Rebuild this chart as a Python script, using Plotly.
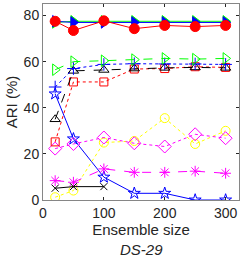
import plotly.graph_objects as go

x = [20, 50, 100, 150, 200, 250, 300]

green_tri = [77.0, 77.5, 77.5, 77.5, 77.5, 77.5, 77.5]
blue_tri = [77.5, 77.0, 77.0, 77.0, 77.0, 77.0, 77.0]
red_circ = [77.5, 73.5, 77.7, 74.3, 75.7, 75.2, 75.7]
green_open_tri = [56.5, 60.0, 60.4, 60.9, 61.4, 61.1, 61.4]
blue_plus = [49.0, 57.0, 58.8, 59.1, 59.0, 59.0, 58.8]
black_tri = [35.0, 56.0, 56.4, 57.0, 57.3, 57.5, 57.3]
red_sq = [25.2, 51.2, 51.2, 56.8, 57.0, 57.8, 57.5]
blue_star = [46.0, 26.5, 9.9, 2.9, 2.9, 0.0, 0.0]
yellow_circ = [1.2, 4.1, 24.9, 25.6, 35.5, 24.3, 30.0]
mag_diam = [22.3, 24.3, 27.1, 24.6, 23.2, 28.5, 26.8]
mag_ast = [8.4, 7.7, 13.5, 12.0, 12.0, 12.5, 11.6]
x_black = [20, 50, 100]
black_x = [5.1, 5.8, 5.8]

series = [
    (x, blue_star, "#0000FF", "solid", "star-open", 9),
    (x, yellow_circ, "#FFFF00", "dot", "circle-open", 9),
    (x, mag_diam, "#FF00FF", "dot", "diamond-open", 10),
    (x, mag_ast, "#FF00FF", "dash", "asterisk-open", 9),
    (x_black, black_x, "#000000", "solid", "x-thin-open", 7),
    (x, red_sq, "#FF0000", "dot", "square-open", 8),
    (x, black_tri, "#000000", "dash", "triangle-up-open", 9),
    (x, blue_plus, "#0000FF", "dot", "cross-thin-open", 9),
    (x, green_open_tri, "#00FF00", "dash", "triangle-right-open", 10),
    (x, green_tri, "#00FF00", "solid", "triangle-right", 10),
    (x, blue_tri, "#0000FF", "solid", "triangle-right", 10),
    (x, red_circ, "#FF0000", "solid", "circle", 10),
]

fig = go.Figure()
for xs, ys, c, dash, sym, sz in series:
    fig.add_trace(go.Scatter(
        x=xs, y=ys, mode="lines+markers",
        line=dict(color=c, width=1, dash=dash),
        marker=dict(symbol=sym, size=sz, color=c, line=dict(color=c, width=1)),
        showlegend=False,
    ))

axis_common = dict(
    showgrid=False, zeroline=False, showline=True, mirror="ticks",
    linecolor="#868686", linewidth=1, ticks="inside", ticklen=3,
    tickcolor="#262626", tickfont=dict(family="Liberation Sans, Arial", size=14, color="#262626"),
)

fig.update_xaxes(range=[0, 322], tickvals=[0, 100, 200, 300],
                 title=dict(text="Ensemble size", standoff=4,
                            font=dict(family="Liberation Sans, Arial", size=15, color="#262626")),
                 **axis_common)
fig.update_yaxes(range=[0, 85], tickvals=[0, 20, 40, 60, 80],
                 title=dict(text="ARI (%)", standoff=2,
                            font=dict(family="Liberation Sans, Arial", size=15, color="#262626")),
                 **axis_common)

fig.add_annotation(text="<i>DS-29</i>", xref="paper", yref="paper", x=0.5, y=-0.255,
                   showarrow=False, yanchor="middle",
                   font=dict(family="Liberation Sans, Arial", size=15, color="#262626"))

fig.update_layout(
    width=241, height=257,
    margin=dict(l=43, r=2, t=4, b=57),
    plot_bgcolor="white", paper_bgcolor="white",
)

fig.write_html("out.html", config={"displayModeBar": False},
               post_script="document.body.style.margin='0';document.body.style.overflow='hidden';")
